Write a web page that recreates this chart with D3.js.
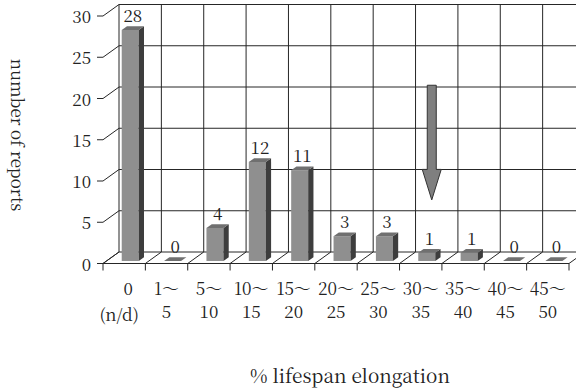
<!DOCTYPE html>
<html>
<head>
<meta charset="utf-8">
<script src="https://cdn.jsdelivr.net/npm/d3@7"></script>
<style>
  html, body { margin: 0; padding: 0; background: #fff; }
  svg { display: block; }
</style>
</head>
<body>
<svg id="chart" width="576" height="388"></svg>
<script>
// ---- data ----
const categories = ["0", "1-5", "5-10", "10-15", "15-20", "20-25", "25-30", "30-35", "35-40", "40-45", "45-50"];
const catLine1 = ["0", "1～", "5～", "10～", "15～", "20～", "25～", "30～", "35～", "40～", "45～"];
const catLine2 = ["(n/d)", "5", "10", "15", "20", "25", "30", "35", "40", "45", "50"];
const reports = [28, 0, 4, 12, 11, 3, 3, 1, 1, 0, 0];
const yTicks = [0, 5, 10, 15, 20, 25, 30];
const arrowCategory = "30-35";
const arrowFrom = 21.3;   // value at arrow tail
const arrowHeadStart = 11.1;
const arrowTo = 7.4;      // value at arrow tip
const yTitle = "number of reports";
const xTitle = "% lifespan elongation";

// ---- layout ----
const FONT = "'Noto Serif CJK JP', 'Liberation Serif', serif";
const svg = d3.select("#chart");
const x = d3.scaleBand().domain(categories).range([103, 569]);
const y = d3.scaleLinear().domain([0, 30]).range([263.5, 16]);
const DX = 16, DY = -11.5;          // full depth offset
const f0 = 0.22, fd = 0.33;        // bar front depth & bar depth (fractions)
const barOff = 15.2, barW = 17;
const line = "#262626";
const txt = "#222";

const g = svg.append("g");

// back wall horizontal gridlines
g.selectAll(".hgrid").data(yTicks).join("line")
  .attr("x1", x.range()[0] + DX).attr("x2", x.range()[1] + DX)
  .attr("y1", d => y(d) + DY).attr("y2", d => y(d) + DY)
  .attr("stroke", line).attr("stroke-width", 1);

// back wall vertical gridlines (category boundaries)
const bounds = categories.map(c => x(c)).concat([x.range()[1]]);
g.selectAll(".vgrid").data(bounds).join("line")
  .attr("x1", d => d + DX).attr("x2", d => d + DX)
  .attr("y1", y(0) + DY).attr("y2", y(30) + DY)
  .attr("stroke", line).attr("stroke-width", 1);

// side wall diagonals at y ticks + front tick marks
g.selectAll(".sdiag").data(yTicks).join("line")
  .attr("x1", x.range()[0]).attr("x2", x.range()[0] + DX)
  .attr("y1", d => y(d)).attr("y2", d => y(d) + DY)
  .attr("stroke", line);
g.selectAll(".ytick").data(yTicks).join("line")
  .attr("x1", x.range()[0] - 6).attr("x2", x.range()[0])
  .attr("y1", d => y(d)).attr("y2", d => y(d))
  .attr("stroke", line);
g.selectAll(".ylab").data(yTicks).join("text")
  .attr("x", 91).attr("y", d => y(d) + 7)
  .attr("text-anchor", "end")
  .style("font-family", FONT).attr("fill", txt)
  .style("font-size", "17px").text(d => d);

// floor: front edge, diagonals, ticks
g.append("line")
  .attr("x1", x.range()[0]).attr("x2", x.range()[1])
  .attr("y1", y(0)).attr("y2", y(0)).attr("stroke", line);
g.selectAll(".fdiag").data(bounds).join("line")
  .attr("x1", d => d).attr("x2", d => d + DX)
  .attr("y1", y(0)).attr("y2", y(0) + DY).attr("stroke", line);
g.selectAll(".xtick").data(bounds).join("line")
  .attr("x1", d => d).attr("x2", d => d)
  .attr("y1", y(0)).attr("y2", y(0) + 7).attr("stroke", line);

// bars (3D)
const bars = g.selectAll(".bar").data(categories.map((c, i) => ({c, v: reports[i]}))).join("g");
bars.each(function(d) {
  const sel = d3.select(this);
  const x0 = x(d.c) + barOff + DX * f0;
  const x1 = x0 + barW;
  const yb = y(0) + DY * f0;
  const yt = y(d.v) + DY * f0;
  const ddx = DX * fd, ddy = DY * fd;
  if (d.v > 0) {
    sel.append("rect").attr("x", x0).attr("y", yt).attr("width", barW).attr("height", yb - yt)
      .attr("fill", "#8f8f8f");
    sel.append("path")
      .attr("d", `M${x1},${yb}L${x1},${yt}L${x1 + ddx},${yt + ddy}L${x1 + ddx},${yb + ddy}Z`)
      .attr("fill", "#3d3d3d");
  }
  sel.append("path")
    .attr("d", `M${x0},${yt}L${x1},${yt}L${x1 + ddx},${yt + ddy}L${x0 + ddx},${yt + ddy}Z`)
    .attr("fill", "#707070");
  sel.append("text")
    .attr("x", x0 + (barW + ddx) / 2).attr("y", yt + ddy - 4)
    .attr("text-anchor", "middle").style("font-size", "17px")
    .style("font-family", FONT).attr("fill", txt).text(d.v);
});

// category labels
g.selectAll(".cl1").data(categories).join("text")
  .attr("x", (d, i) => x(d) + x.bandwidth() / 2 + (i === 0 ? 4 : 0))
  .attr("y", 295).attr("text-anchor", "middle").style("font-size", "17px")
  .style("font-family", FONT).attr("fill", txt)
  .text((d, i) => catLine1[i]);
g.selectAll(".cl2").data(categories).join("text")
  .attr("x", (d, i) => x(d) + x.bandwidth() / 2 + (i === 0 ? -5 : 0))
  .attr("y", (d, i) => i === 0 ? 321 : 318).attr("text-anchor", "middle").style("font-size", "17px")
  .style("font-family", FONT).attr("fill", txt)
  .text((d, i) => catLine2[i]);

// arrow annotation
{
  const cx = x(arrowCategory) + barOff + DX * f0 + barW / 2 + 5;
  const yy = v => y(v) + DY * f0;
  const sw = 4.5, hw = 9.5;
  const p = `M${cx - sw},${yy(arrowFrom)}L${cx + sw},${yy(arrowFrom)}L${cx + sw},${yy(arrowHeadStart)}` +
            `L${cx + hw},${yy(arrowHeadStart)}L${cx},${yy(arrowTo)}L${cx - hw},${yy(arrowHeadStart)}` +
            `L${cx - sw},${yy(arrowHeadStart)}Z`;
  g.append("path").attr("d", p).attr("fill", "#7f7f7f").attr("stroke", "#333").attr("stroke-width", 1);
}

// axis titles
svg.append("text")
  .attr("transform", "translate(11,135) rotate(90)")
  .attr("text-anchor", "middle")
  .style("font-family", FONT).attr("fill", txt)
  .style("font-size", "17px").text(yTitle);
svg.append("text")
  .attr("x", 350).attr("y", 383).attr("text-anchor", "middle")
  .style("font-family", FONT).attr("fill", txt)
  .style("font-size", "19px").text(xTitle);
</script>
</body>
</html>
